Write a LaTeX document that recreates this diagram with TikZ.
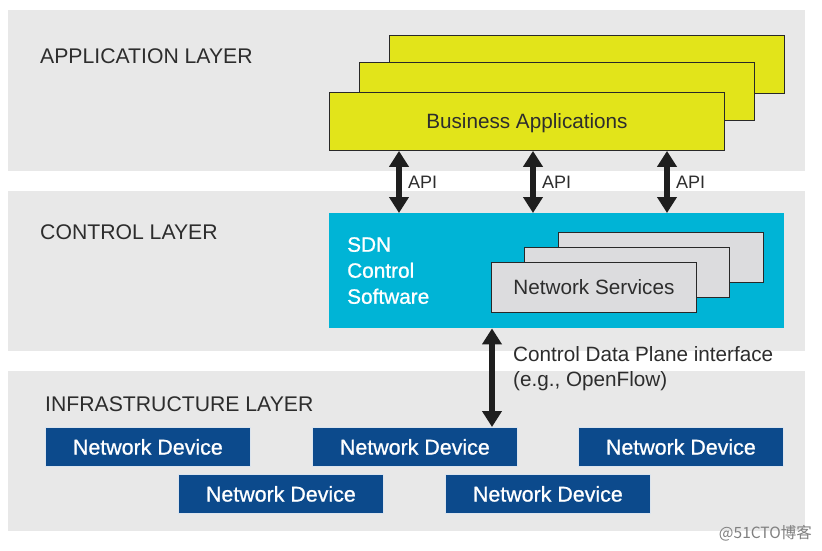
\documentclass[tikz,border=0pt]{standalone}
\usepackage{fontspec}
\setmainfont{Liberation Sans}
\newfontfamily\medfont[FakeBold=0.9]{Liberation Sans}
\newfontfamily\cjkfont{Noto Sans CJK SC}
\usetikzlibrary{arrows.meta}
\definecolor{bandgray}{RGB}{232,232,232}
\definecolor{appyellow}{RGB}{226,228,26}
\definecolor{sdncyan}{RGB}{0,180,214}
\definecolor{svcgray}{RGB}{220,220,222}
\definecolor{devblue}{RGB}{12,74,140}
\definecolor{edgedark}{RGB}{40,40,40}
\definecolor{labelgray}{RGB}{45,45,45}
\definecolor{arrowblack}{RGB}{30,30,30}
\tikzset{
  band/.style={fill=bandgray, draw=none, anchor=north west, inner sep=0pt, minimum width=797pt},
  appbox/.style={fill=appyellow, draw=edgedark, line width=0.9pt, anchor=north west, inner sep=0pt,
    minimum width=395pt, minimum height=58pt, font=\fontsize{20.7}{24}\selectfont, text=labelgray, text depth=0pt},
  svcbox/.style={fill=svcgray, draw=edgedark, line width=0.9pt, anchor=north west, inner sep=0pt,
    minimum width=205pt, minimum height=50pt, font=\fontsize{20.7}{24}\selectfont, text=labelgray},
  devbox/.style={fill=devblue, draw=white!85!devblue, line width=0.8pt, anchor=north west, inner sep=0pt,
    minimum width=205pt, minimum height=39pt, text=white, font=\medfont\fontsize{21.4}{24}\selectfont},
  layerlabel/.style={anchor=base west, inner sep=0pt, text=labelgray, font=\fontsize{21.2}{24}\selectfont},
  smalllabel/.style={anchor=west, inner sep=0pt, text=labelgray, font=\fontsize{18}{22}\selectfont},
  bigarrow/.style={arrowblack, line width=6.5pt, {Triangle[width=19pt,length=16pt]}-{Triangle[width=19pt,length=16pt]}},
}
\begin{document}
\begin{tikzpicture}[x=1pt,y=-1pt]
\useasboundingbox[fill=white] (0,0) rectangle (822,550);
% layer bands
\node[band, minimum height=161pt] (appband) at (8,10) {};
\node[band, minimum height=160pt] (ctlband) at (8,191) {};
\node[band, minimum height=160pt] (infband) at (8,371) {};
\node[layerlabel] (applabel) at (40,63) {APPLICATION LAYER};
\node[layerlabel] (ctllabel) at (40,239) {CONTROL LAYER};
\node[layerlabel] (inflabel) at (45,411) {INFRASTRUCTURE LAYER};
% business applications stack
\node[appbox] (app3) at (389,35) {};
\node[appbox] (app2) at (359,62) {};
\node[appbox] (app1) at (329,92) {Business Applications};
% SDN control software
\node[fill=sdncyan, draw=none, anchor=north west, inner sep=0pt, minimum width=455pt, minimum height=115pt] (sdn) at (329,213) {};
\node[anchor=north west, inner sep=0pt, align=left, text=white, font=\medfont\fontsize{20.8}{26}\selectfont] (sdnlabel) at (347,237) {SDN\\Control\\Software};
\node[svcbox] (svc3) at (558,232) {};
\node[svcbox] (svc2) at (524,247) {};
\node[svcbox] (svc1) at (491,262) {Network Services};
% network devices
\node[devbox] (dev1) at (45,427) {Network Device};
\node[devbox] (dev2) at (312,427) {Network Device};
\node[devbox] (dev3) at (578,427) {Network Device};
\node[devbox] (dev4) at (178,474) {Network Device};
\node[devbox] (dev5) at (445,474) {Network Device};
% API arrows
\coordinate (apix1) at (399,0);
\coordinate (apix2) at (533,0);
\coordinate (apix3) at (667,0);
\draw[bigarrow] (apix1 |- app1.south) -- (apix1 |- sdn.north) coordinate[pos=0.5] (api1m);
\draw[bigarrow] (apix2 |- app1.south) -- (apix2 |- sdn.north) coordinate[pos=0.5] (api2m);
\draw[bigarrow] (apix3 |- app1.south) -- (apix3 |- sdn.north) coordinate[pos=0.5] (api3m);
\node[smalllabel] (apilab1) at ([xshift=9pt]api1m) {API};
\node[smalllabel] (apilab2) at ([xshift=9pt]api2m) {API};
\node[smalllabel] (apilab3) at ([xshift=9pt]api3m) {API};
% control data plane arrow
\coordinate (cdpx) at (492,0);
\draw[bigarrow] (cdpx |- sdn.south) -- (cdpx |- dev2.north);
\node[anchor=north west, inner sep=0pt, align=left, text=labelgray, font=\fontsize{20.7}{25}\selectfont] (cdplabel) at (513,346) {Control Data Plane interface\\(e.g., OpenFlow)};
% watermark
\node[anchor=east, inner sep=0pt, text=gray, font=\cjkfont\fontsize{15.5}{17}\selectfont] (wm) at (812,533) {@51CTO博客};
\end{tikzpicture}
\end{document}
